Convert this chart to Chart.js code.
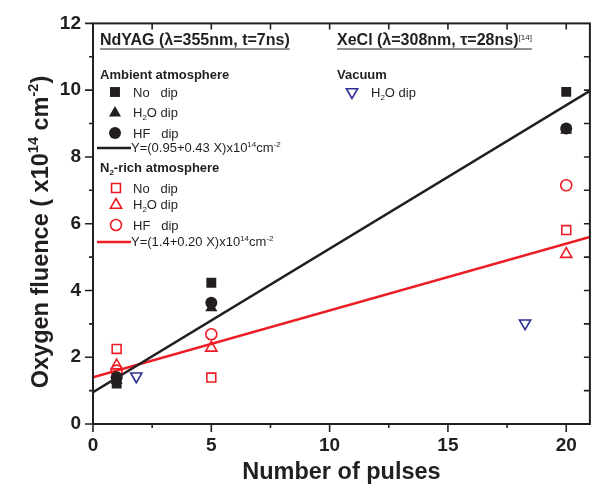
<!DOCTYPE html>
<html>
<head>
<meta charset="utf-8">
<script src="https://cdn.jsdelivr.net/npm/chart.js@4/dist/chart.umd.min.js"></script>
<style>
  html, body { margin: 0; background: #fff; }
  #wrap { width: 598px; height: 490px; }
</style>
</head>
<body>
<div id="wrap"><canvas id="c"></canvas></div>
<script>
// values
const pulses = [1, 5, 20];
const ambNoDip = [1.21, 4.23, 9.95];
const ambH2O = [1.3, 3.48, 8.8];
const ambHF = [1.4, 3.63, 8.85];
const n2NoDip = [2.25, 1.39, 5.81];
const n2H2O = [1.75, 2.28, 5.09];
const n2HF = [1.6, 2.69, 7.15];
const vacPulses = [1.83, 18.26];
const vacH2O = [1.43, 3.02];
const fitX = [0, 21];
const ambFit = [0.95, 9.98];
const n2Fit = [1.4, 5.6];
const xTicks = [0, 5, 10, 15, 20];
const yTicks = [0, 2, 4, 6, 8, 10, 12];

const BLACK = '#231f20';
const RED = '#ed1c24';
const BLUE = '#2e3192';
const FONT = '"Liberation Sans", Arial, Helvetica, sans-serif';

const pts = (xs, ys) => xs.map((x, i) => ({ x: x, y: ys[i] }));

function marker(label, xs, ys, style, r, color, filled, rot) {
  return {
    label: label,
    data: pts(xs, ys),
    pointStyle: style,
    pointRadius: r,
    pointHoverRadius: r,
    pointRotation: rot || 0,
    pointBackgroundColor: filled ? color : 'rgba(0,0,0,0)',
    pointBorderColor: color,
    pointBorderWidth: filled ? 0 : 1.6,
    showLine: false
  };
}

// text with sub/superscripts; parts = [[text, 'n'|'sup'|'sub'], ...]
function rich(ctx, x, y, parts, size, weight, color, measureOnly) {
  ctx.save();
  ctx.fillStyle = color;
  ctx.textAlign = 'left';
  ctx.textBaseline = 'alphabetic';
  for (const [t, m] of parts) {
    const s = m === 'n' ? size : size * 0.62;
    ctx.font = weight + ' ' + s + 'px ' + FONT;
    const dy = m === 'sup' ? -size * 0.42 : (m === 'sub' ? size * 0.22 : 0);
    if (!measureOnly) ctx.fillText(t, x, y + dy);
    x += ctx.measureText(t).width;
  }
  ctx.restore();
  return x;
}

function legendPoint(ctx, style, r, color, filled, rot, x, y) {
  ctx.save();
  ctx.fillStyle = filled ? color : 'rgba(0,0,0,0)';
  ctx.strokeStyle = color;
  ctx.lineWidth = filled ? 0 : 1.6;
  Chart.helpers.drawPoint(ctx, { pointStyle: style, radius: r, rotation: rot || 0, borderWidth: filled ? 0 : 1.6 }, x, y);
  ctx.restore();
}

function underline(ctx, x0, x1, y) {
  ctx.save();
  ctx.strokeStyle = BLACK; ctx.lineWidth = 1.2;
  ctx.beginPath(); ctx.moveTo(x0, y); ctx.lineTo(x1, y); ctx.stroke();
  ctx.restore();
}

const decor = {
  id: 'decor',
  afterDraw(chart) {
    const ctx = chart.ctx;
    const a = chart.chartArea;
    const xs = chart.scales.x, ys = chart.scales.y;
    ctx.save();
    ctx.strokeStyle = BLACK;
    ctx.lineWidth = 2;
    ctx.strokeRect(a.left, a.top, a.right - a.left, a.bottom - a.top);
    ctx.lineWidth = 1.6;
    ctx.beginPath();
    for (let v = 0; v <= 21; v += 2.5) {
      const px = xs.getPixelForValue(v);
      const major = v % 5 === 0;
      ctx.moveTo(px, a.bottom); ctx.lineTo(px, a.bottom + (major ? 8 : 4));
      if (v > 0) { ctx.moveTo(px, a.top); ctx.lineTo(px, a.top + 6); }
    }
    for (let v = 0; v <= 12; v += 1) {
      const py = ys.getPixelForValue(v);
      const major = v % 2 === 0;
      ctx.moveTo(a.left, py); ctx.lineTo(a.left - (major ? 8 : 4), py);
      if (v > 0 && v < 12) { ctx.moveTo(a.right, py); ctx.lineTo(a.right - 6, py); }
    }
    ctx.stroke();
    ctx.restore();

    // axis titles
    ctx.save();
    ctx.font = 'bold 23.5px ' + FONT;
    ctx.fillStyle = BLACK;
    ctx.textAlign = 'center';
    ctx.fillText('Number of pulses', (a.left + a.right) / 2, 479);
    ctx.restore();

    const yParts = [['Oxygen fluence ( x10', 'n'], ['14', 'sup'], [' cm', 'n'], ['-2', 'sup'], [')', 'n']];
    const w = rich(ctx, 0, 0, yParts, 23.5, 'bold', BLACK, true);
    ctx.save();
    ctx.translate(48, 232);
    ctx.rotate(-Math.PI / 2);
    rich(ctx, -w / 2, 0, yParts, 23.5, 'bold', BLACK);
    ctx.restore();

    // headers
    let e = rich(ctx, 100, 45, [['NdYAG (λ=355nm, t=7ns)', 'n']], 16, 'bold', BLACK);
    underline(ctx, 100, e, 49);
    e = rich(ctx, 337, 45, [['XeCl (λ=308nm, τ=28ns)', 'n']], 16, 'bold', BLACK);
    const e2 = rich(ctx, e, 45, [['[14]', 'sup']], 13, 'normal', BLACK);
    underline(ctx, 337, e2, 49);

    // ambient legend
    rich(ctx, 100, 79, [['Ambient atmosphere', 'n']], 13, 'bold', BLACK);
    legendPoint(ctx, 'rect', 7, BLACK, true, 0, 115, 92);
    rich(ctx, 133, 97, [['No   dip', 'n']], 13, 'normal', BLACK);
    legendPoint(ctx, 'triangle', 7, BLACK, true, 0, 115, 113);
    rich(ctx, 133, 117, [['H', 'n'], ['2', 'sub'], ['O dip', 'n']], 13, 'normal', BLACK);
    legendPoint(ctx, 'circle', 6, BLACK, true, 0, 115, 133);
    rich(ctx, 133, 138, [['HF   dip', 'n']], 13, 'normal', BLACK);
    ctx.save();
    ctx.strokeStyle = BLACK; ctx.lineWidth = 2.5;
    ctx.beginPath(); ctx.moveTo(97, 148); ctx.lineTo(131, 148); ctx.stroke();
    ctx.restore();
    rich(ctx, 131, 152, [['Y=(0.95+0.43 X)x10', 'n'], ['14', 'sup'], ['cm', 'n'], ['-2', 'sup']], 13, 'normal', BLACK);

    // N2 legend
    rich(ctx, 100, 172, [['N', 'n'], ['2', 'sub'], ['-rich atmosphere', 'n']], 13, 'bold', BLACK);
    legendPoint(ctx, 'rect', 6.3, RED, false, 0, 116, 188);
    rich(ctx, 133, 193, [['No   dip', 'n']], 13, 'normal', BLACK);
    legendPoint(ctx, 'triangle', 6.5, RED, false, 0, 116, 205);
    rich(ctx, 133, 209, [['H', 'n'], ['2', 'sub'], ['O dip', 'n']], 13, 'normal', BLACK);
    legendPoint(ctx, 'circle', 5.5, RED, false, 0, 116, 225);
    rich(ctx, 133, 230, [['HF   dip', 'n']], 13, 'normal', BLACK);
    ctx.save();
    ctx.strokeStyle = RED; ctx.lineWidth = 2.5;
    ctx.beginPath(); ctx.moveTo(97, 242); ctx.lineTo(131, 242); ctx.stroke();
    ctx.restore();
    rich(ctx, 131, 246, [['Y=(1.4+0.20 X)x10', 'n'], ['14', 'sup'], ['cm', 'n'], ['-2', 'sup']], 13, 'normal', BLACK);

    // vacuum legend
    rich(ctx, 337, 79, [['Vacuum', 'n']], 13, 'bold', BLACK);
    legendPoint(ctx, 'triangle', 6.5, BLUE, false, 180, 352, 92);
    rich(ctx, 371, 97, [['H', 'n'], ['2', 'sub'], ['O dip', 'n']], 13, 'normal', BLACK);
  }
};

new Chart(document.getElementById('c'), {
  type: 'scatter',
  data: {
    datasets: [
      marker('Ambient No dip', pulses, ambNoDip, 'rect', 7, BLACK, true),
      marker('Ambient H2O dip', pulses, ambH2O, 'triangle', 7, BLACK, true),
      marker('Ambient HF dip', pulses, ambHF, 'circle', 6, BLACK, true),
      marker('N2 No dip', pulses, n2NoDip, 'rect', 6.3, RED, false),
      marker('N2 H2O dip', pulses, n2H2O, 'triangle', 6.5, RED, false),
      marker('N2 HF dip', pulses, n2HF, 'circle', 5.5, RED, false),
      marker('Vacuum H2O dip', vacPulses, vacH2O, 'triangle', 6.5, BLUE, false, 180),
      {
        label: 'Ambient fit', data: pts(fitX, ambFit), showLine: true,
        borderColor: BLACK, borderWidth: 2.5, pointRadius: 0
      },
      {
        label: 'N2 fit', data: pts(fitX, n2Fit), showLine: true,
        borderColor: RED, borderWidth: 2.5, pointRadius: 0
      }
    ]
  },
  options: {
    responsive: true,
    maintainAspectRatio: false,
    animation: false,
    layout: { padding: { left: 0, right: 6, top: 20, bottom: 0 } },
    plugins: { legend: { display: false }, tooltip: { enabled: false } },
    scales: {
      x: {
        type: 'linear', min: 0, max: 21,
        afterBuildTicks: s => { s.ticks = xTicks.map(v => ({ value: v })); },
        afterFit: s => { s.height = 66; },
        grid: { display: false, drawTicks: false },
        border: { display: false },
        ticks: { padding: 10, color: BLACK, font: { family: FONT, size: 19, weight: 'bold' } }
      },
      y: {
        type: 'linear', min: 0, max: 12,
        afterBuildTicks: s => { s.ticks = yTicks.map(v => ({ value: v })); },
        afterFit: s => { s.width = 93; },
        grid: { display: false, drawTicks: false },
        border: { display: false },
        ticks: { padding: 12, color: BLACK, font: { family: FONT, size: 19, weight: 'bold' } }
      }
    }
  },
  plugins: [decor]
});
</script>
</body>
</html>
